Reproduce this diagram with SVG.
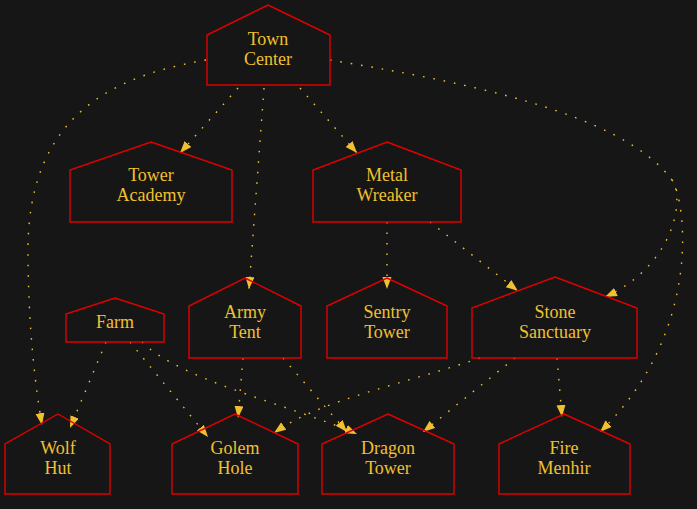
<svg xmlns="http://www.w3.org/2000/svg" width="697" height="509" viewBox="0 0 697 509">
<style>
.n polygon{fill:none;stroke:#e00000;stroke-width:1.4}
.n text{font-size:18px;fill:#f0c030;text-anchor:middle}
.e path{fill:none;stroke:#f0c030;stroke-width:1.4;stroke-dasharray:1.6,8.9}
</style>
<defs>
<marker id="a" markerUnits="userSpaceOnUse" markerWidth="13" markerHeight="10" refX="12" refY="4.5" orient="auto">
<path d="M0,0 L12,4.5 L0,9 z" fill="#f0c030"/>
</marker>
</defs>
<rect width="697" height="509" fill="#161616"/>
<g class="e">
<path d="M238,88 L180,153" marker-end="url(#a)"/>
<path d="M300,88 L357,153" marker-end="url(#a)"/>
<path d="M264,88 L249,289" marker-end="url(#a)"/>
<path d="M206,60 C120,75 28,110 28,250 C28,330 36,390 42,425" marker-end="url(#a)"/>
<path d="M330,60 C450,80 620,110 672,180 C685,198 675,265 605,297" marker-end="url(#a)"/>
<path d="M672,180 C685,198 705,330 600,432" marker-end="url(#a)"/>
<path d="M387,222 L387,289" marker-end="url(#a)"/>
<path d="M430,222 L518,291" marker-end="url(#a)"/>
<path d="M106,342 L70,428" marker-end="url(#a)"/>
<path d="M130,342 L208,437" marker-end="url(#a)"/>
<path d="M142,342 C180,380 290,405 357,434" marker-end="url(#a)"/>
<path d="M243,358 L238,418" marker-end="url(#a)"/>
<path d="M283,358 L347,432" marker-end="url(#a)"/>
<path d="M480,358 C400,385 320,400 274,433" marker-end="url(#a)"/>
<path d="M515,358 L423,432" marker-end="url(#a)"/>
<path d="M557,358 L562,417" marker-end="url(#a)"/>
</g>
<g font-family="'Liberation Serif', 'DejaVu Serif', serif">
<g id="town_center" class="n"><polygon points="268,5 330,35 330,85 207,85 207,35"/><text x="268" y="45">Town</text><text x="268" y="65">Center</text></g>
<g id="tower_academy" class="n"><polygon points="151,142 232,170 232,222 70,222 70,170"/><text x="151" y="181">Tower</text><text x="151" y="201">Academy</text></g>
<g id="metal_wreaker" class="n"><polygon points="387,142 461,170 461,222 313,222 313,170"/><text x="387" y="181">Metal</text><text x="387" y="201">Wreaker</text></g>
<g id="farm" class="n"><polygon points="115,298 164,314 164,342 66,342 66,314"/><text x="115" y="328">Farm</text></g>
<g id="army_tent" class="n"><polygon points="245,278 301,306 301,358 189,358 189,306"/><text x="245" y="318">Army</text><text x="245" y="338">Tent</text></g>
<g id="sentry_tower" class="n"><polygon points="387,278 447,306 447,358 327,358 327,306"/><text x="387" y="318">Sentry</text><text x="387" y="338">Tower</text></g>
<g id="stone_sanctuary" class="n"><polygon points="555,277 637,308 637,358 472,358 472,308"/><text x="555" y="318">Stone</text><text x="555" y="338">Sanctuary</text></g>
<g id="wolf_hut" class="n"><polygon points="58,414 110,444 110,494 5,494 5,444"/><text x="58" y="454">Wolf</text><text x="58" y="474">Hut</text></g>
<g id="golem_hole" class="n"><polygon points="235,414 298,444 298,494 172,494 172,444"/><text x="235" y="454">Golem</text><text x="235" y="474">Hole</text></g>
<g id="dragon_tower" class="n"><polygon points="388,414 454,444 454,494 322,494 322,444"/><text x="388" y="454">Dragon</text><text x="388" y="474">Tower</text></g>
<g id="fire_menhir" class="n"><polygon points="564,414 630,444 630,494 499,494 499,444"/><text x="564" y="454">Fire</text><text x="564" y="474">Menhir</text></g>
</g>
</svg>
